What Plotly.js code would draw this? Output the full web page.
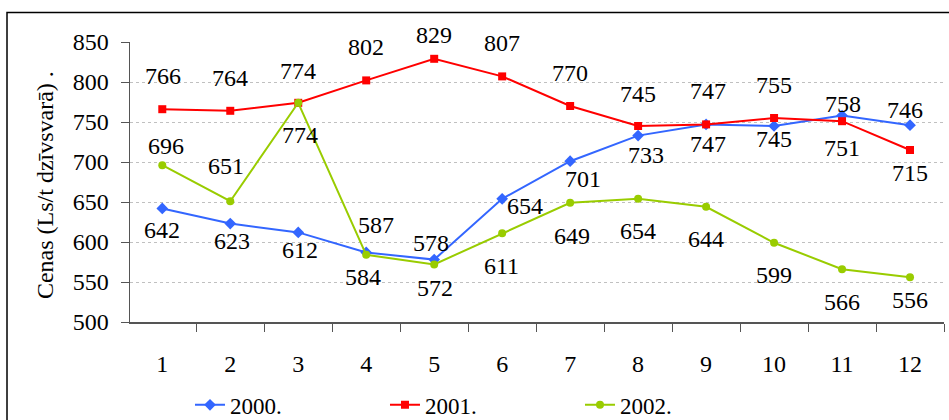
<!DOCTYPE html>
<html>
<head>
<meta charset="utf-8">
<script src="https://cdn.plot.ly/plotly-3.0.1.min.js"></script>
<style>
html,body{margin:0;padding:0;background:#fff;}
#chart{width:949px;height:420px;}
</style>
</head>
<body>
<div id="chart"></div>
<script>
// ---- data ----
const months = [1,2,3,4,5,6,7,8,9,10,11,12];
const monthLabels = ["1","2","3","4","5","6","7","8","9","10","11","12"];
const seriesNames = ["2000.","2001.","2002."];
const prices2000 = [642,623,612,587,578,654,701,733,747,745,758,746];
const prices2001 = [766,764,774,802,829,807,770,745,747,755,751,715];
const prices2002 = [696,651,774,584,572,611,649,654,644,599,566,556];
const yTitle = "Cenas (Ls/t dzīvsvarā) .";

// ---- label offsets (px, screen: +dx right, +dy down) ----
const off2000 = [[0,22],[2,17],[2,18],[10,-27],[-3,-17],[23,7],[13,18],[8,19],[2,20],[0,13],[1,-12],[-5,-15]];
const off2001 = [[1,-33],[0,-33],[0,-32],[0,-33],[0,-24],[0,-33],[0,-33],[0,-32],[2,-33],[0,-33],[0,27],[0,23]];
const off2002 = [[4,-19],[-4,-35],[2,32],[-3,22],[1,24],[-1,33],[2,33],[0,32],[0,32],[0,32],[0,33],[0,23]];

const FONT = "Liberation Serif";
const colors = ["#3366ff","#ff0000","#99cc00"];
const symbols = ["diamond","square","circle"];
const msize = [9,8,8];
const allSeries = [prices2000, prices2001, prices2002];
const allOffs = [off2000, off2001, off2002];

const traces = allSeries.map((vals,i)=>({
  type:"scatter", mode:"lines+markers", name:seriesNames[i],
  x:months, y:vals,
  line:{color:colors[i], width:2},
  marker:{color:colors[i], symbol:symbols[i], size:msize[i]},
  hoverinfo:"skip"
}));

const annotations = [];
allSeries.forEach((vals,i)=>{
  vals.forEach((v,k)=>{
    annotations.push({
      x:months[k], y:v, xref:"x", yref:"y", text:String(v), showarrow:false,
      xanchor:"center", yanchor:"middle",
      xshift:allOffs[i][k][0], yshift:-allOffs[i][k][1],
      font:{family:FONT, size:24, color:"#000"}
    });
  });
});
annotations.push({
  xref:"paper", yref:"paper", x:-0.1044, y:0.489, text:yTitle, showarrow:false,
  textangle:-90, xanchor:"center", yanchor:"middle",
  font:{family:FONT, size:24, color:"#000"}
});

const layout = {
  width:949, height:420,
  margin:{l:130, r:5, t:42, b:98, autoexpand:false},
  paper_bgcolor:"#fff", plot_bgcolor:"#fff",
  showlegend:true,
  legend:{orientation:"h", x:0.0737, xanchor:"left", y:-0.296, yanchor:"middle",
          font:{family:FONT, size:23, color:"#000"}, entrywidth:150, entrywidthmode:"pixels",
          bgcolor:"rgba(0,0,0,0)", borderwidth:0, traceorder:"normal"},
  xaxis:{
    range:[0.525, 12.5], tickmode:"array", tickvals:months, ticktext:monthLabels,
    ticks:"", ticklabelstandoff:20,
    tickfont:{family:FONT, size:24, color:"#000"},
    showline:true, linecolor:"#555", linewidth:1.5, showgrid:false, zeroline:false,
    minor:{ticks:"outside", tickmode:"linear", tick0:0.5, dtick:1, ticklen:8, tickcolor:"#555", tickwidth:1, showgrid:false},
    fixedrange:true, automargin:false
  },
  yaxis:{
    range:[500,850], tickmode:"linear", tick0:500, dtick:50,
    ticks:"outside", ticklen:8, tickcolor:"#555", tickwidth:1, ticklabelstandoff:7,
    tickfont:{family:FONT, size:24, color:"#000"},
    showline:true, linecolor:"#555", linewidth:1.5,
    showgrid:true, gridcolor:"#c0c0c0", griddash:"dot", gridwidth:1, zeroline:false,
    fixedrange:true, automargin:false
  },
  annotations:annotations,
  shapes:[{type:"rect", xref:"paper", yref:"paper", x0:-0.1511, x1:1.05, y0:-0.5, y1:1.1054,
           line:{color:"#000", width:1.5}, fillcolor:"rgba(0,0,0,0)", layer:"below"}]
};

Plotly.newPlot("chart", traces, layout, {staticPlot:true, displayModeBar:false});
</script>
</body>
</html>
